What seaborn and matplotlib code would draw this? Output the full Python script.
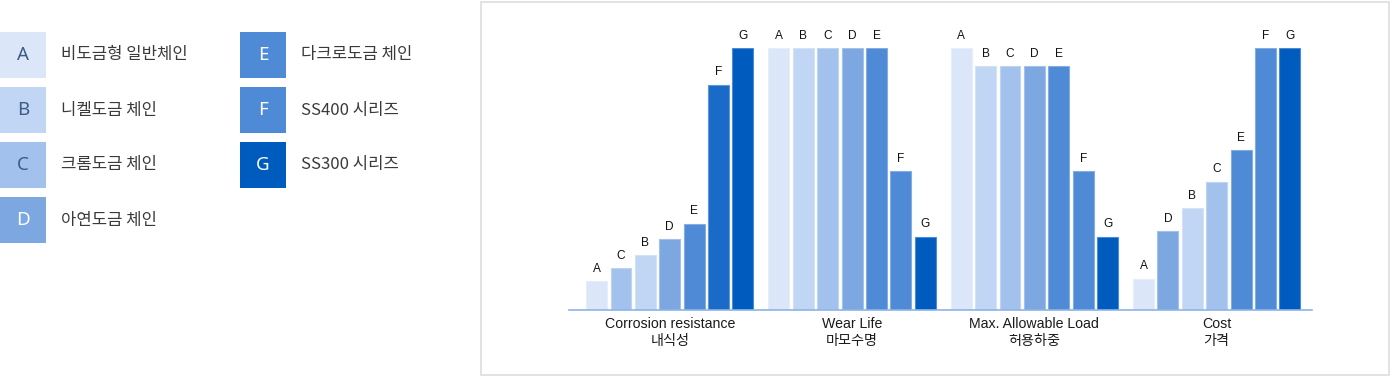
import matplotlib
matplotlib.use("Agg")
import matplotlib.pyplot as plt
import matplotlib.colors as mcolors
from matplotlib.patches import Rectangle
import seaborn as sns
import pandas as pd

# ---------------- data ----------------
groups_en = ["Corrosion resistance", "Wear Life", "Max. Allowable Load", "Cost"]
groups_ko = ["내식성", "마모수명", "허용하중", "가격"]

corrosion_letters = ["A", "C", "B", "D", "E", "F", "G"]
corrosion_values = [11, 16, 21, 27, 33, 86, 100]
wear_letters = ["A", "B", "C", "D", "E", "F", "G"]
wear_values = [100, 100, 100, 100, 100, 53, 28]
load_letters = ["A", "B", "C", "D", "E", "F", "G"]
load_values = [100, 93, 93, 93, 93, 53, 28]
cost_letters = ["A", "D", "B", "C", "E", "F", "G"]
cost_values = [12, 30, 39, 49, 61, 100, 100]

legend_letters = ["A", "B", "C", "D", "E", "F", "G"]
legend_labels = ["비도금형 일반체인", "니켈도금 체인", "크롬도금 체인", "아연도금 체인",
                 "다크로도금 체인", "SS400 시리즈", "SS300 시리즈"]

# ---------------- styles ----------------
letter_colors = {"A": "#dbe7f9", "B": "#c1d6f4", "C": "#a2c1ec", "D": "#7ca7e1",
                 "E": "#4f8ad6", "F": "#4f8ad6", "G": "#005bbf"}
special_colors = {("Corrosion resistance", "F"): "#1a6ac8"}
legend_text_colors = {"A": "#3e5b84", "B": "#3e5b84", "C": "#3e5b84"}

LATIN_KO = ["Liberation Sans", "Noto Sans CJK KR"]
KO = ["Noto Sans CJK KR", "DejaVu Sans"]

sns.set_theme(style="white")
plt.rcParams["font.family"] = ["Noto Sans CJK KR", "DejaVu Sans"]

W, H = 1400, 376
fig = plt.figure(figsize=(W / 100, H / 100), dpi=100)

# ---------------- build table ----------------
all_letters = [corrosion_letters, wear_letters, load_letters, cost_letters]
all_values = [corrosion_values, wear_values, load_values, cost_values]
rows = []
for en, ko, lets, vals in zip(groups_en, groups_ko, all_letters, all_values):
    for slot, (l, v) in enumerate(zip(lets, vals)):
        rows.append({"group": f"{en}\n{ko}", "en": en, "slot": f"s{slot}",
                     "letter": l, "value": v})
df = pd.DataFrame(rows)
group_order = [f"{e}\n{k}" for e, k in zip(groups_en, groups_ko)]
slot_order = [f"s{i}" for i in range(7)]

# ---------------- chart ----------------
ax_left, ax_right = 569.3, 1311.7
ax_bottom, ax_top = 310, 48
ax = fig.add_axes([ax_left / W, (H - ax_bottom) / H,
                   (ax_right - ax_left) / W, (ax_bottom - ax_top) / H])

sns.barplot(data=df, x="group", y="value", hue="slot", order=group_order,
            hue_order=slot_order, width=0.936, gap=0.14, dodge=True,
            legend=False, ax=ax, palette=["#888888"] * 7, saturation=1, errorbar=None)

for si, container in enumerate(ax.containers):
    labels = []
    for gi, patch in enumerate(container.patches):
        en = groups_en[gi]
        letter = all_letters[gi][si]
        col = special_colors.get((en, letter), letter_colors[letter])
        rgb = mcolors.to_rgb(col)
        edge = tuple(c + (1 - c) * 0.3 for c in rgb)
        patch.set_facecolor(col)
        patch.set_edgecolor(edge)
        patch.set_linewidth(0.8)
        labels.append(letter)
    ax.bar_label(container, labels=labels, padding=4.5, fontsize=8.6,
                 family=LATIN_KO, color="#111111")

ax.set_xlim(-0.551, 3.521)
ax.set_ylim(0, 100)
ax.set_xlabel("")
ax.set_ylabel("")
ax.set_yticks([])
for s in ["top", "left", "right"]:
    ax.spines[s].set_visible(False)
ax.spines["bottom"].set_color("#8db3ea")
ax.spines["bottom"].set_linewidth(1.2)
ax.tick_params(axis="x", length=0, pad=5)
for t in ax.get_xticklabels():
    t.set_fontfamily(LATIN_KO)
    t.set_fontsize(10.2)
    t.set_color("#1a1a1a")
    t.set_linespacing(1.25)
ax.patch.set_alpha(0)

# ---------------- frame ----------------
fig.add_artist(Rectangle((481 / W, 1.5 / H), (1389 - 481) / W, (374 - 1.5) / H,
                         transform=fig.transFigure, fill=False,
                         edgecolor="#dddddd", linewidth=1.2))

# ---------------- legend ----------------
box = 46
for i, (l, lab) in enumerate(zip(legend_letters, legend_labels)):
    col_i, row_i = divmod(i, 4)
    x0 = col_i * 240
    y0 = 32 + row_i * 55
    fig.add_artist(Rectangle((x0 / W, (H - y0 - box) / H), box / W, box / H,
                             transform=fig.transFigure, facecolor=letter_colors[l],
                             edgecolor="none"))
    yc = (H - y0 - box / 2) / H
    fig.text((x0 + box / 2) / W, yc, l, ha="center", va="center",
             fontsize=13.5, family=["Noto Sans", "DejaVu Sans"],
             color=legend_text_colors.get(l, "white"))
    fig.text((x0 + 61) / W, yc, lab, ha="left", va="center",
             fontsize=12, family=KO, color="#3a3a3a")

fig.savefig("out.png", dpi=100)
